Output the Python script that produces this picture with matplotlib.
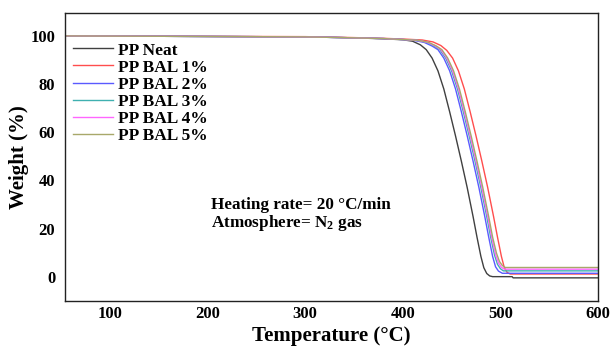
import matplotlib
matplotlib.use("Agg")
import matplotlib.pyplot as plt

plt.rcParams['font.family'] = ['Liberation Serif', 'DejaVu Serif']
plt.rcParams['font.weight'] = 'bold'
plt.rcParams['mathtext.fontset'] = 'custom'
plt.rcParams['mathtext.rm'] = 'Liberation Serif:bold'
plt.rcParams['mathtext.default'] = 'rm'

# TGA curves: temperature (°C) / weight (%)
t_neat = [54, 300, 350, 380, 400, 410, 418, 424, 430, 436, 442, 448, 454, 460, 466, 472, 476, 480, 483, 486, 489, 492, 512, 513, 600]
w_neat = [100, 99.6, 99.2, 98.8, 98.4, 97.8, 96.3, 94.3, 90.8, 85.5, 78, 68.5, 58.5, 48, 37, 25, 16.5, 8.5, 3.8, 1.4, 0.4, 0.1, 0.1, -0.4, -0.4]

t_bal1 = [54, 300, 350, 380, 400, 420, 431, 439, 445, 451, 457, 463, 469, 475, 481, 487, 493, 497, 501, 504, 507, 510, 600]
w_bal1 = [100, 99.7, 99.3, 99.0, 98.7, 98.3, 97.5, 96, 94, 90.8, 85.5, 78, 68.5, 58.5, 48, 37, 25, 16.5, 8.5, 3.8, 1.8, 1.2, 1.2]

t_bal2 = [54, 300, 350, 380, 400, 412, 422, 430, 436, 442, 448, 454, 460, 466, 472, 478, 484, 488, 492, 495, 498, 502, 600]
w_bal2 = [100, 99.6, 99.2, 98.9, 98.5, 98.1, 97.3, 95.8, 94.3, 90.8, 85.5, 78, 68.5, 58.5, 48, 37, 25, 16.5, 8.5, 4.2, 2.4, 1.5, 1.5]

t_bal3 = [54, 300, 350, 380, 400, 414, 424, 432, 438, 444, 450, 456, 462, 468, 474, 480, 486, 490, 494, 497, 500, 503, 600]
w_bal3 = [100, 99.6, 99.2, 98.9, 98.5, 98.2, 97.4, 95.9, 94.3, 90.8, 85.5, 78, 68.5, 58.5, 48, 37, 25, 16.5, 9, 5.2, 3.4, 2.5, 2.5]

t_bal4 = [54, 300, 350, 380, 400, 414, 425, 433, 439, 445, 451, 457, 463, 469, 475, 481, 487, 491, 495, 498, 501, 504, 600]
w_bal4 = [100, 99.6, 99.2, 98.9, 98.5, 98.2, 97.4, 95.9, 94.3, 90.8, 85.5, 78, 68.5, 58.5, 48, 37, 25, 16.5, 9.3, 5.8, 4.0, 3.2, 3.2]

t_bal5 = [54, 300, 350, 380, 400, 415, 426, 434, 440, 446, 452, 458, 464, 470, 476, 482, 488, 492, 496, 499, 502, 505, 600]
w_bal5 = [100, 99.6, 99.2, 98.9, 98.5, 98.2, 97.4, 95.9, 94.3, 90.8, 85.5, 78, 68.5, 58.5, 48, 37, 25, 16.5, 9.8, 6.4, 4.7, 3.9, 3.9]

labels = ['PP Neat', 'PP BAL 1%', 'PP BAL 2%', 'PP BAL 3%', 'PP BAL 4%', 'PP BAL 5%']
colors = ['#404040', '#ff4d4d', '#5a5aff', '#3fb0b0', '#ff66ff', '#a8a86a']

fig = plt.figure(figsize=(6.10, 3.47), dpi=100)
ax = fig.add_axes([0.1066, 0.1326, 0.8738, 0.8299])

series = [(t_neat, w_neat), (t_bal1, w_bal1), (t_bal2, w_bal2),
          (t_bal3, w_bal3), (t_bal4, w_bal4), (t_bal5, w_bal5)]
for (t, w), lab, c in zip(series, labels, colors):
    ax.plot(t, w, color=c, lw=1.0, label=lab)

ax.set_xlim(54, 600)
ax.set_ylim(-10, 109.5)
ax.set_xticks([100, 200, 300, 400, 500, 600])
ax.set_yticks([0, 20, 40, 60, 80, 100])
ax.tick_params(axis='x', length=0, labelsize=12, pad=3.5)
ax.tick_params(axis='y', length=0, labelsize=12, pad=7)
for lab in ax.get_xticklabels() + ax.get_yticklabels():
    lab.set_fontweight('bold')

ax.set_xlabel('Temperature (°C)', fontsize=15, fontweight='bold', labelpad=3)
ax.set_ylabel('Weight (%)', fontsize=15, fontweight='bold', labelpad=1)

for s in ax.spines.values():
    s.set_linewidth(1.0)
    s.set_color('#222222')

ax.legend(loc='upper left', bbox_to_anchor=(0.015, 0.898), frameon=False,
          prop={'size': 12.5, 'weight': 'bold'}, labelspacing=0.05,
          handlelength=2.3, handletextpad=0.3, borderaxespad=0.0, borderpad=0.0)

ax.text(204, 29.9, 'Heating rate= 20 °C/min', fontsize=12.3,
        fontweight='bold', va='center')
ax.text(204, 22.4, 'Atmosphere= N$_2$ gas', fontsize=12.3,
        fontweight='bold', va='center')

fig.savefig('out.png', dpi=100)
